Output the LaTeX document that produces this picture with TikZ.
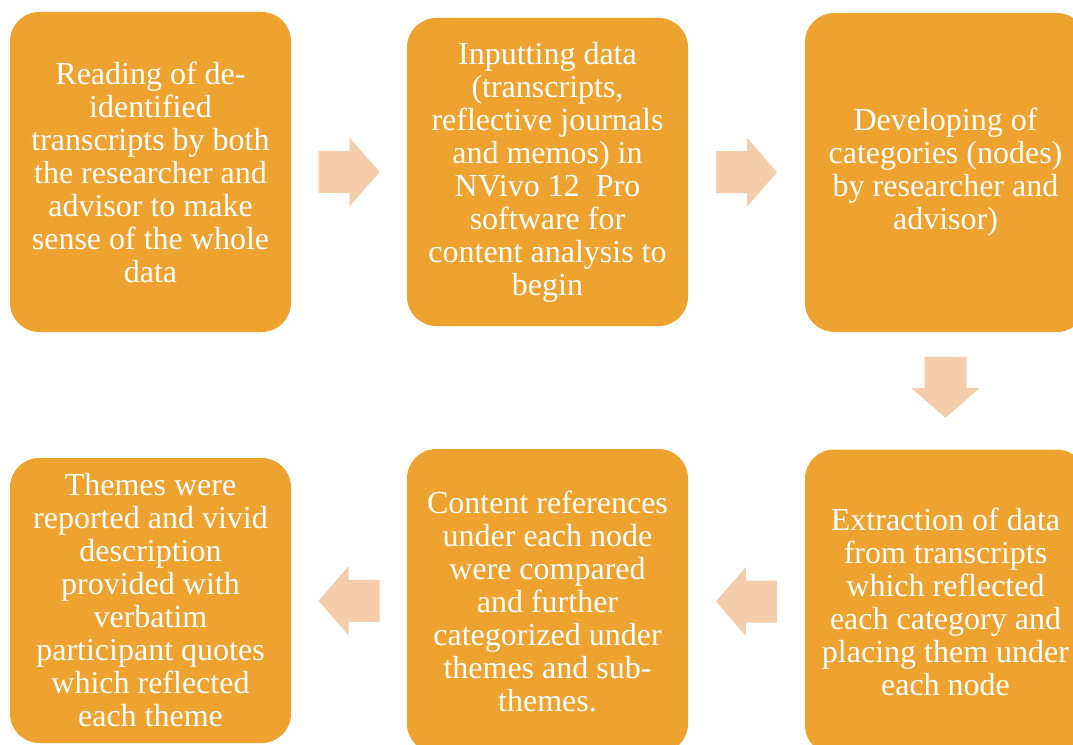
\documentclass[tikz,border=0pt]{standalone}
\usepackage{fontspec}
\setmainfont{Liberation Serif}
\usetikzlibrary{calc}

\definecolor{stagefill}{RGB}{238,163,49}
\definecolor{arrowfill}{RGB}{245,205,171}

\tikzset{
  stage/.style={rectangle, rounded corners=22pt, fill=stagefill, text=white,
    align=center, minimum width=210.75pt, inner sep=0pt,
    font=\fontsize{24pt}{24.75pt}\selectfont}
}

\begin{document}
\begin{tikzpicture}[x=0.75pt, y=-0.75pt]
  \useasboundingbox (0,0) rectangle (1073,745);
  \clip (0,0) rectangle (1073,745);

  % top row
  \node[stage, minimum height=240pt] (read) at (150.5,172)
    {Reading of de-\\identified\\transcripts by both\\the researcher and\\advisor to make\\sense of the whole\\data};
  \node[stage, minimum height=231pt] (input) at (547.5,172)
    {Inputting data\\(transcripts,\\reflective journals\\and memos) in\\NVivo 12\ \ Pro\\software for\\content analysis to\\begin};
  \node[stage, minimum height=239.25pt] (develop) at (945.5,172.5)
    {Developing of\\categories (nodes)\\by researcher and\\advisor)};

  % bottom row
  \node[stage, minimum height=228.75pt] (extract) at (945.5,602)
    {Extraction of data\\from transcripts\\which reflected\\each category and\\placing them under\\each node};
  \node[stage, minimum height=228pt] (content) at (547.5,601)
    {Content references\\under each node\\were compared\\and further\\categorized under\\themes and sub-\\themes.};
  \node[stage, minimum height=213.75pt] (themes) at (150.5,600.5)
    {Themes were\\reported and vivid\\description\\provided with\\verbatim\\participant quotes\\which reflected\\each theme};

  % block arrows half way between the boxes
  \foreach \a/\b/\r in {read/input/0, input/develop/0, develop/extract/270,
                        extract/content/180, content/themes/180}
    {
      \fill[arrowfill, shift={($(\a)!0.5!(\b)$)}, rotate=\r]
        (-30.5,-21) -- (0.5,-21) -- (0.5,-34.5) -- (30.5,0)
        -- (0.5,34.5) -- (0.5,21) -- (-30.5,21) -- cycle;
    }

\end{tikzpicture}
\end{document}
